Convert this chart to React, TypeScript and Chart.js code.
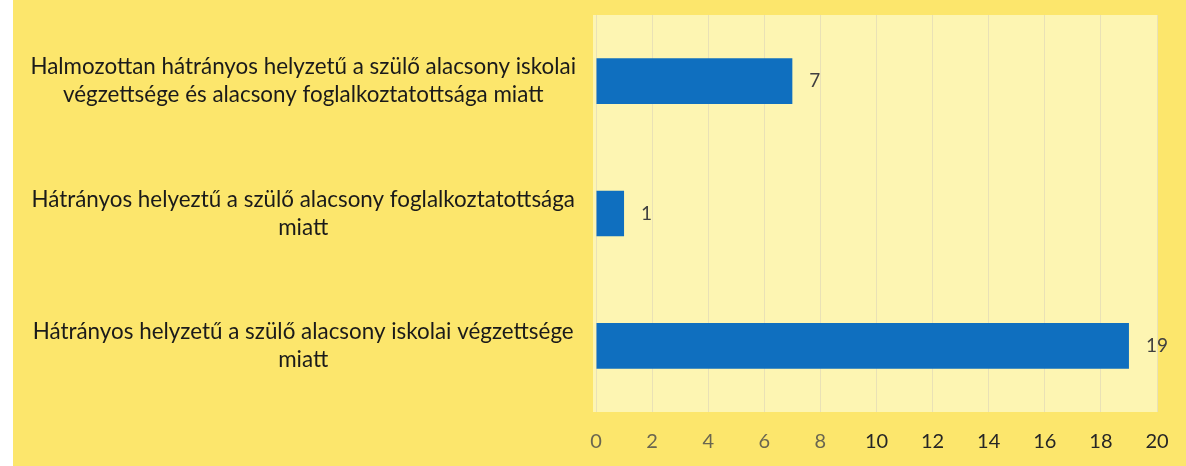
import React, { useEffect, useRef } from "react";
import { Chart, registerables } from "chart.js";

Chart.register(...registerables);

const categories: string[][] = [
  ["Halmozottan hátrányos helyzetű a szülő alacsony iskolai", "végzettsége és alacsony foglalkoztatottsága miatt"],
  ["Hátrányos helyeztű a szülő alacsony foglalkoztatottsága", "miatt"],
  ["Hátrányos helyzetű a szülő alacsony iskolai végzettsége", "miatt"],
];
const values: number[] = [7, 1, 19];
const xMin = 0;
const xMax = 20;
const xStep = 2;

const W = 1186;
const H = 466;

const bgPlugin = {
  id: "bgPlugin",
  beforeDraw(chart: any) {
    const { ctx, width, height, chartArea } = chart;
    ctx.save();
    ctx.fillStyle = "#ffffff";
    ctx.fillRect(0, 0, width, height);
    ctx.fillStyle = "#FCE66C";
    ctx.fillRect(13, 0, width - 13, height);
    ctx.fillStyle = "#FDF5B2";
    ctx.fillRect(chartArea.left - 3, chartArea.top, chartArea.right - chartArea.left + 4, chartArea.bottom - chartArea.top);
    ctx.restore();
  },
};

const labelPlugin = {
  id: "labelPlugin",
  afterDatasetsDraw(chart: any) {
    const { ctx } = chart;
    const meta = chart.getDatasetMeta(0);
    const data = chart.data.datasets[0].data;
    ctx.save();
    ctx.font = "19px Lato";
    ctx.fillStyle = "#404040";
    ctx.textAlign = "left";
    ctx.textBaseline = "middle";
    meta.data.forEach((el: any, i: number) => {
      ctx.fillText(String(data[i]), el.x + 17, el.y);
    });
    ctx.restore();
  },
};

export default function App() {
  const ref = useRef<HTMLCanvasElement | null>(null);
  useEffect(() => {
    document.body.style.margin = "0";
    const canvas = ref.current;
    if (!canvas) return;
    const chart = new Chart(canvas, {
      type: "bar",
      data: {
        labels: categories,
        datasets: [
          {
            data: values,
            backgroundColor: "#0F6FBF",
            borderWidth: 0,
            barPercentage: 0.345,
            categoryPercentage: 1,
          },
        ],
      },
      options: {
        indexAxis: "y",
        animation: false,
        responsive: true,
        maintainAspectRatio: false,
        layout: { padding: { top: 15, right: 29, left: 0, bottom: 0 } },
        plugins: {
          legend: { display: false },
          tooltip: { enabled: false },
          title: { display: false },
        },
        scales: {
          x: {
            min: xMin,
            max: xMax,
            border: { display: false },
            grid: { color: "#E9E1B6", lineWidth: 1, drawTicks: false },
            ticks: {
              stepSize: xStep,
              padding: 18,
              font: { family: "Lato", size: 20 },
              color: (c: any) => (c.index < 5 ? "#6A6650" : "#262626"),
            },
            afterFit: (s: any) => {
              s.height = 54;
              s.paddingLeft = 0;
              s.paddingRight = 0;
            },
          },
          y: {
            border: { display: false },
            grid: { display: false },
            ticks: {
              crossAlign: "center",
              padding: 12,
              font: { family: "Lato", size: 22.4, lineHeight: 1.25 },
              color: "#1a1a1a",
            },
            afterFit: (s: any) => {
              s.width = 596;
              s.paddingTop = 0;
              s.paddingBottom = 0;
            },
          },
        },
      },
      plugins: [bgPlugin, labelPlugin],
    });
    return () => chart.destroy();
  }, []);
  return (
    <div style={{ width: W, height: H, position: "relative" }}>
      <canvas ref={ref} />
    </div>
  );
}
